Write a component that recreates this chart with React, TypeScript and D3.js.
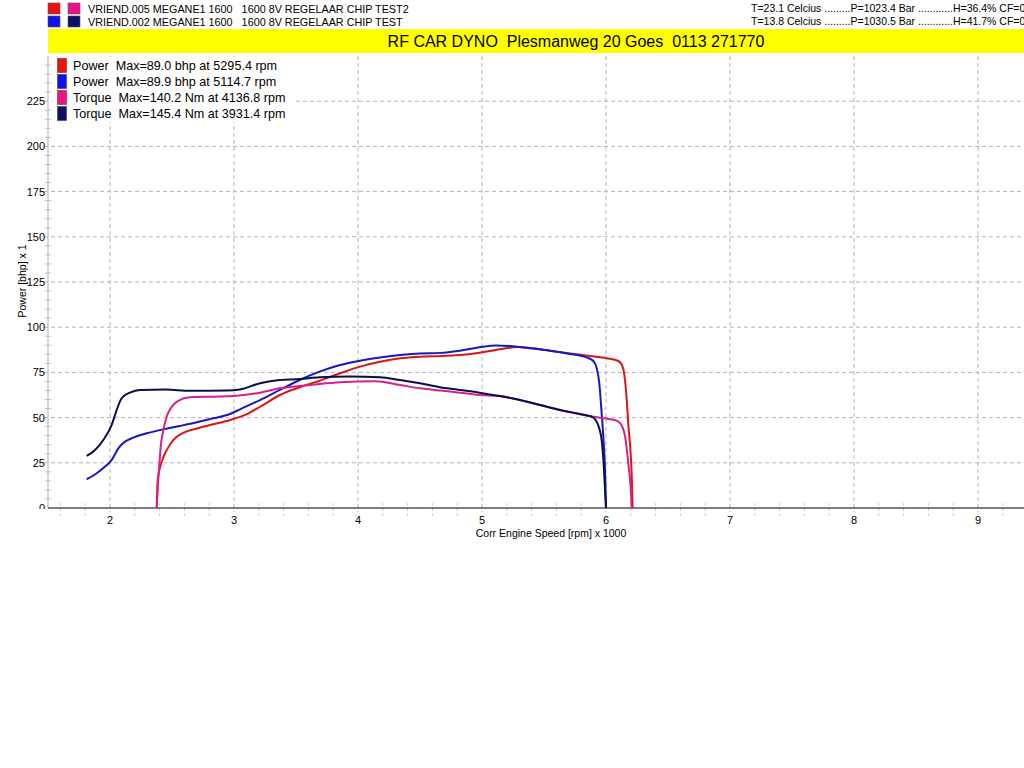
import * as d3 from 'd3';

// rpm in thousands, values as plotted on the y axis (torque shown at Nm / 2)
const powerRun1: [number, number][] = [
  [2.377, 0], [2.385, 15.5], [2.398, 21], [2.417, 25.6], [2.457, 32], [2.51, 37.6],
  [2.591, 41.6], [2.7, 44], [2.833, 46.3], [2.968, 48.7], [3.1, 51.8], [3.21, 56],
  [3.37, 62.5], [3.53, 66.8], [3.69, 70.4], [3.855, 74.5], [4.016, 78.2], [4.177, 80.9],
  [4.34, 82.8], [4.5, 83.7], [4.66, 84], [4.82, 84.6], [4.98, 85.9], [5.145, 87.8],
  [5.295, 89.0], [5.414, 88.3], [5.548, 87], [5.71, 85.5], [5.87, 84.1], [6.005, 82.8],
  [6.1, 81.3], [6.134, 78.2], [6.153, 70.8], [6.167, 60], [6.18, 46], [6.194, 35],
  [6.207, 19], [6.215, 0]
];

const powerRun2: [number, number][] = [
  [1.812, 15.9], [1.893, 19.2], [1.96, 22.9], [2.013, 26.5], [2.067, 33], [2.121, 36.7],
  [2.188, 38.9], [2.296, 41.3], [2.43, 43.5], [2.565, 45.4], [2.7, 47.4], [2.833, 49.6],
  [2.968, 52], [3.048, 54.6], [3.21, 59.7], [3.37, 65.3], [3.53, 70.8], [3.69, 75.4],
  [3.855, 79.1], [4.016, 81.5], [4.177, 83.3], [4.34, 84.6], [4.5, 85.5], [4.66, 85.8],
  [4.82, 87], [4.98, 88.9], [5.115, 89.9], [5.226, 89.6], [5.387, 88.3], [5.548, 87],
  [5.71, 85.2], [5.844, 83.3], [5.898, 81.3], [5.925, 77.3], [5.946, 69], [5.965, 52.4],
  [5.98, 37.6], [5.992, 21], [6.0, 0]
];

const torqueRun1: [number, number][] = [
  [2.377, 0], [2.385, 11.8], [2.395, 21], [2.409, 33.9], [2.43, 43], [2.457, 50.5],
  [2.498, 56], [2.55, 59.3], [2.645, 61.2], [2.833, 61.6], [3.02, 62.1], [3.21, 63.8],
  [3.37, 66.2], [3.53, 67.5], [3.69, 68.6], [3.855, 69.5], [4.137, 70.1], [4.34, 68],
  [4.5, 66.2], [4.66, 65], [4.82, 63.8], [4.98, 62.5], [5.145, 61.9], [5.306, 59.7],
  [5.468, 57], [5.63, 54.2], [5.79, 51.8], [5.95, 49.9], [6.086, 48.3], [6.125, 45.9],
  [6.153, 40], [6.18, 24.7], [6.2, 10], [6.207, 0]
];

const torqueRun2: [number, number][] = [
  [1.812, 28.8], [1.879, 32.1], [1.946, 37.6], [2.013, 45.9], [2.054, 54.2], [2.094, 60.7],
  [2.161, 63.8], [2.242, 65.3], [2.45, 65.5], [2.645, 64.8], [2.94, 65], [3.048, 65.6],
  [3.21, 69], [3.37, 70.8], [3.53, 71.3], [3.69, 72.3], [3.931, 72.7], [4.177, 72.3],
  [4.34, 70.8], [4.5, 69], [4.66, 66.8], [4.82, 65.3], [4.98, 63.8], [5.145, 61.9],
  [5.306, 59.7], [5.468, 57], [5.63, 54.2], [5.79, 52], [5.885, 50.5], [5.925, 47.7],
  [5.95, 43], [5.965, 37.6], [5.984, 21], [5.995, 6.3], [6.0, 0]
];

const xTicks = [2, 3, 4, 5, 6, 7, 8, 9];
const yTicks = [0, 25, 50, 75, 100, 125, 150, 175, 200, 225];

const runs = [
  {
    swatches: ['#ee1111', '#ee1188'],
    name: 'VRIEND.005 MEGANE1 1600   1600 8V REGELAAR CHIP TEST2',
    weather: 'T=23.1 Celcius .........P=1023.4 Bar ............H=36.4% CF=0'
  },
  {
    swatches: ['#1111ee', '#101060'],
    name: 'VRIEND.002 MEGANE1 1600   1600 8V REGELAAR CHIP TEST',
    weather: 'T=13.8 Celcius .........P=1030.5 Bar ............H=41.7% CF=0'
  }
];

const series = [
  { label: 'Power  Max=89.0 bhp at 5295.4 rpm', data: powerRun1, line: '#d81818', swatch: '#ee1111' },
  { label: 'Power  Max=89.9 bhp at 5114.7 rpm', data: powerRun2, line: '#1818c0', swatch: '#1111ee' },
  { label: 'Torque  Max=140.2 Nm at 4136.8 rpm', data: torqueRun1, line: '#d8208c', swatch: '#ee1188' },
  { label: 'Torque  Max=145.4 Nm at 3931.4 rpm', data: torqueRun2, line: '#0c0c50', swatch: '#101060' }
];

const FONT = '"Liberation Sans", Arial, sans-serif';
const pre = { whiteSpace: 'pre' as const };

export default function App() {
  const width = 1024;
  const height = 768;
  const left = 48;
  const top = 56;
  const bottom = 508;

  const x = d3.scaleLinear().domain([1.5, 9.5]).range([left, left + 992]);
  const y = d3.scaleLinear().domain([0, 250]).range([bottom, top]);

  const line = d3
    .line<[number, number]>()
    .x((d) => x(d[0]))
    .y((d) => y(d[1]))
    .curve(d3.curveMonotoneX);

  const minorX = d3.range(1.6, 9.5, 0.2).filter((v) => Math.abs(v - Math.round(v)) > 0.05);
  const minorY = d3.range(5, 250, 5).filter((v) => v % 25 !== 0);

  return (
    <svg
      width={width}
      height={height}
      style={{ position: 'absolute', left: 0, top: 0, background: '#fff' }}
      fontFamily={FONT}
    >
      <defs>
        <clipPath id="ylab-clip">
          <rect x={0} y={0} width={left} height={bottom + 1} />
        </clipPath>
      </defs>
      <rect width={width} height={height} fill="#fff" />

      {/* run header */}
      {runs.map((r, i) => (
        <g key={r.name} transform={`translate(0, ${i * 13})`}>
          <rect x={48} y={3} width={12} height={11} fill={r.swatches[0]} stroke="#555" strokeWidth={0.6} />
          <rect x={68} y={3} width={12} height={11} fill={r.swatches[1]} stroke="#555" strokeWidth={0.6} />
          <text x={88} y={13} fontSize={10.8} fill="#000" style={pre}>{r.name}</text>
          <text x={751} y={12} fontSize={10.5} fill="#000" style={pre}>{r.weather}</text>
        </g>
      ))}

      {/* title band */}
      <rect x={left} y={29} width={width - left} height={24} fill="#ffff00" />
      <text x={576} y={47} fontSize={16} textAnchor="middle" fill="#000" style={pre}>
        RF CAR DYNO  Plesmanweg 20 Goes  0113 271770
      </text>

      {/* grid */}
      {yTicks.filter((t) => t > 0).map((t) => (
        <line key={`gy${t}`} x1={44} x2={width} y1={y(t)} y2={y(t)} stroke="#b4b4b4" strokeDasharray="4,3" />
      ))}
      {xTicks.map((t) => (
        <line key={`gx${t}`} x1={x(t)} x2={x(t)} y1={top} y2={bottom + 4} stroke="#b4b4b4" strokeDasharray="4,3" />
      ))}
      {minorY.map((t) => (
        <line key={`my${t}`} x1={45} x2={51} y1={y(t)} y2={y(t)} stroke="#c4c4c4" />
      ))}
      {minorX.map((t) => (
        <line key={`mx${t}`} x1={x(t)} x2={x(t)} y1={bottom - 5} y2={bottom + 8} stroke="#d0d0d0" strokeDasharray="3,2" />
      ))}

      {/* axes */}
      <line x1={left} x2={left} y1={top} y2={bottom} stroke="#b0b0b0" />
      <line x1={left} x2={width} y1={bottom} y2={bottom} stroke="#000" strokeWidth={1.2} />

      <g clipPath="url(#ylab-clip)">
        {yTicks.map((t) => (
          <text key={`yl${t}`} x={45} y={y(t) + 4} fontSize={11} textAnchor="end" fill="#000">
            {t}
          </text>
        ))}
      </g>
      {xTicks.map((t) => (
        <text key={`xl${t}`} x={x(t)} y={524} fontSize={11} textAnchor="middle" fill="#000">
          {t}
        </text>
      ))}

      <text x={551} y={537} fontSize={10.5} textAnchor="middle" fill="#000">
        Corr Engine Speed [rpm] x 1000
      </text>
      <text
        transform={`translate(26, 281) rotate(-90)`}
        fontSize={10.5}
        textAnchor="middle"
        fill="#000"
      >
        Power [bhp] x 1
      </text>

      {/* curves */}
      {series.map((s) => (
        <path key={s.label} d={line(s.data) ?? ''} fill="none" stroke={s.line} strokeWidth={2} strokeLinejoin="round" />
      ))}

      {/* legend */}
      <rect x={52} y={57} width={244} height={65} fill="#fff" />
      {series.map((s, i) => (
        <g key={`lg${i}`} transform={`translate(0, ${i * 16})`}>
          <rect x={57.5} y={58.5} width={9} height={14} fill={s.swatch} stroke="#444" strokeWidth={0.6} />
          <text x={73} y={70} fontSize={12.6} fill="#000" style={pre}>{s.label}</text>
        </g>
      ))}
    </svg>
  );
}
